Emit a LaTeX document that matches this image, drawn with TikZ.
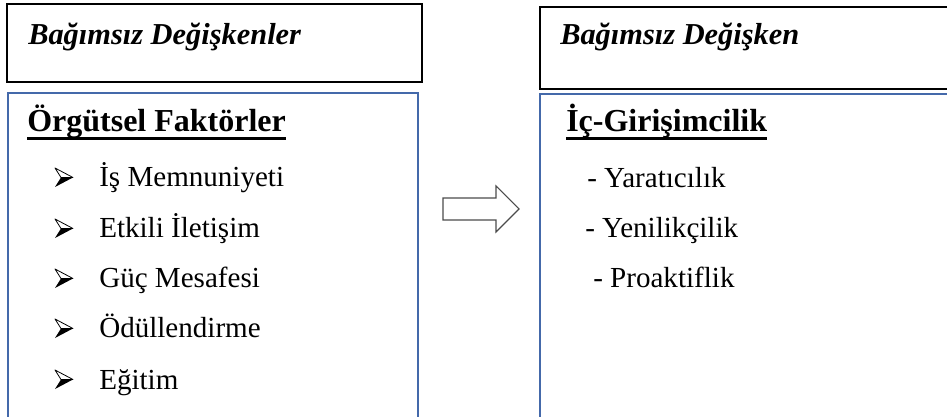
\documentclass[tikz,border=0pt]{standalone}
\usepackage{fontspec}
\setmainfont{Liberation Serif}
\definecolor{kutumavi}{RGB}{68,105,170}
\tikzset{
  baslik/.style={anchor=base west, inner sep=0pt, font=\fontsize{22.8}{27}\selectfont\bfseries\itshape},
  altbaslik/.style={anchor=base west, inner sep=0pt, font=\fontsize{24}{28}\selectfont\bfseries},
  madde/.style={anchor=base west, inner sep=0pt, font=\fontsize{21.8}{26}\selectfont},
  cizgi/.style={line width=2.2pt}
}
\begin{document}
\begin{tikzpicture}[x=0.75pt,y=-0.75pt]
	\useasboundingbox (0,0) rectangle (947,417);
	\clip (0,0) rectangle (947,417);
	% Üst kutular
	\draw[line width=1.1pt] (7,4) rectangle (422,82);
	\draw[line width=1.1pt] (540,7) rectangle (960,89);
	% Alt kutular
	\draw[kutumavi, line width=1pt] (8,93) rectangle (418,430);
	\draw[kutumavi, line width=1pt] (540,94) rectangle (960,430);
	
	% Başlıklar
	\node[baslik] (bd1) at (28,45) {Bağımsız Değişkenler};
	\node[baslik] (bd2) at (560,45) {Bağımsız Değişken};
	\node[altbaslik] (orf) at (27,132) {Örgütsel Faktörler};
	\node[altbaslik] (icg) at (566,132) {İç-Girişimcilik};
	\draw[cizgi] ([yshift=-5.2pt]orf.base west) -- ([yshift=-5.2pt]orf.base east);
	\draw[cizgi] ([yshift=-5.2pt]icg.base west) -- ([yshift=-5.2pt]icg.base east);
	
	% Sol liste
	\foreach \y/\t [count=\i] in {187/İş Memnuniyeti,238/Etkili İletişim,288/Güç Mesafesi,338/Ödüllendirme,389/Eğitim}{
		\coordinate (ok\i) at (55,\y);
		\draw[line width=0.6pt, line join=round] (ok\i) ++(0,-19) -- ++(18,9.5) -- ++(-12,0) -- cycle;
		\fill[line join=round] (ok\i) -- ++(6,-9.5) -- ++(12,0) -- cycle;
		\node[madde] (m\i) at (99,\y) {\t};
	}
	
	% Sağ liste
	\node[madde] (s1) at (587,188) {- Yaratıcılık};
	\node[madde] (s2) at (585,238) {- Yenilikçilik};
	\node[madde] (s3) at (593,288) {- Proaktiflik};
	
	% Blok ok
	\draw[gray!60!black, fill=white, line width=0.8pt] (443,198) -- (496,198) -- (496,186) -- (519,209)
		-- (496,232) -- (496,220) -- (443,220) -- cycle;
\end{tikzpicture}
\end{document}
